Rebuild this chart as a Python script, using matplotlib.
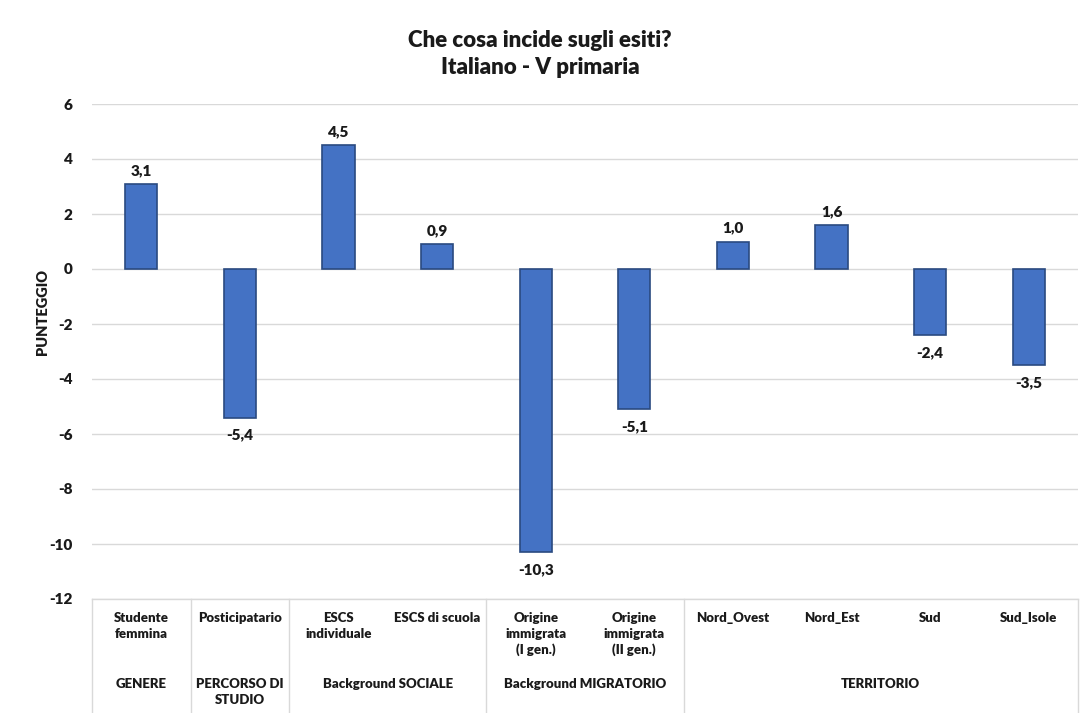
import matplotlib
matplotlib.use("Agg")
import matplotlib.pyplot as plt
from matplotlib.transforms import blended_transform_factory

categories = ["Studente\nfemmina", "Posticipatario", "ESCS\nindividuale", "ESCS di scuola",
              "Origine\nimmigrata\n(I gen.)", "Origine\nimmigrata\n(II gen.)",
              "Nord_Ovest", "Nord_Est", "Sud", "Sud_Isole"]
values = [3.1, -5.4, 4.5, 0.9, -10.3, -5.1, 1.0, 1.6, -2.4, -3.5]
groups = ["GENERE", "PERCORSO DI\nSTUDIO", "Background SOCIALE", "Background MIGRATORIO", "TERRITORIO"]
group_sizes = [1, 1, 2, 2, 4]
yticks = [6, 4, 2, 0, -2, -4, -6, -8, -10, -12]

plt.rcParams['font.family'] = ['Lato', 'DejaVu Sans']
W = 'heavy'
TC = "#1a1a1a"

fig = plt.figure(figsize=(10.8, 7.13), dpi=100)
ax = fig.add_axes([92/1080, 1 - 599/713, (1078-92)/1080, (599-104)/713])

x = list(range(len(values)))
ax.bar(x, values, width=0.325, color="#4472C4", edgecolor="#2A4A80", linewidth=1.2, zorder=3)
ax.set_xlim(-0.5, len(values) - 0.5)
ax.set_ylim(-12, 6)
ax.set_yticks(yticks)
ax.set_yticklabels([str(t) for t in yticks], fontsize=11, fontweight=W, color=TC)
ax.tick_params(axis='y', length=0, pad=14)
ax.set_xticks([])
ax.grid(axis='y', color="#D9D9D9", linewidth=1, zorder=0)
for s in ax.spines.values():
    s.set_visible(False)

for xi, v in zip(x, values):
    lab = f"{v:.1f}".replace(".", ",")
    if v >= 0:
        ax.annotate(lab, (xi, v), xytext=(0, 5), textcoords='offset points',
                    ha='center', va='bottom', fontsize=11, fontweight=W, color=TC)
    else:
        ax.annotate(lab, (xi, v), xytext=(0, -8), textcoords='offset points',
                    ha='center', va='top', fontsize=11, fontweight=W, color=TC)

trans = blended_transform_factory(ax.transData, ax.transAxes)
ax.plot([-0.5, len(values) - 0.5], [0, 0], transform=trans, color="#D9D9D9", lw=1, clip_on=False)
b = -0.5
bounds = [b]
for gs in group_sizes:
    b += gs
    bounds.append(b)
for bx in bounds:
    ax.plot([bx, bx], [0, -0.25], transform=trans, color="#D9D9D9", lw=1, clip_on=False)

for xi, c in zip(x, categories):
    ax.annotate(c, (xi, 0), xycoords=trans, xytext=(0, -9), textcoords='offset points',
                ha='center', va='top', fontsize=9.5, fontweight=W, color=TC,
                linespacing=1.4, annotation_clip=False)

for i, g in enumerate(groups):
    cx = (bounds[i] + bounds[i + 1]) / 2
    ax.annotate(g, (cx, 0), xycoords=trans, xytext=(0, -57), textcoords='offset points',
                ha='center', va='top', fontsize=9.5, fontweight=W, color=TC,
                linespacing=1.4, annotation_clip=False)

fig.text(42/1080, 1 - 312/713, "PUNTEGGIO", rotation=90, ha='center', va='center',
         fontsize=10.5, fontweight=W, color=TC)
fig.text(540/1080, 1 - 54/713, "Che cosa incide sugli esiti?\nItaliano - V primaria",
         ha='center', va='center', fontsize=16, fontweight=W, color=TC, linespacing=1.4)

fig.savefig("out.png", dpi=100)
